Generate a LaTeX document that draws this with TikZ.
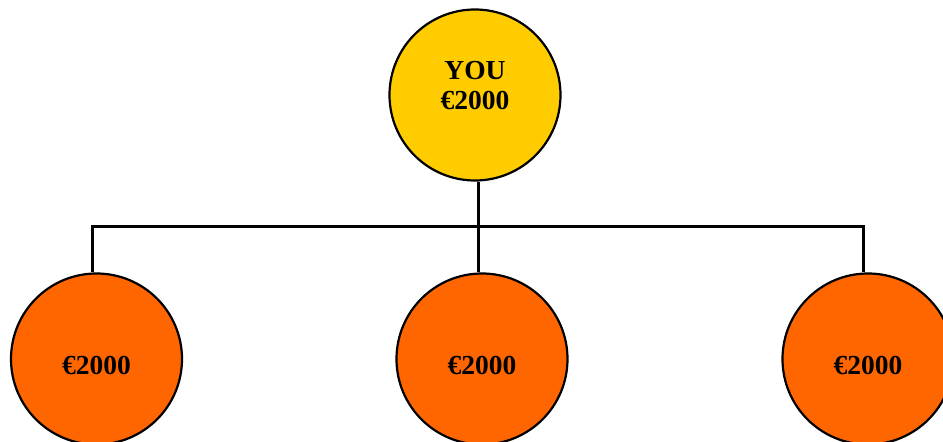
\documentclass[tikz,border=0pt]{standalone}
\usepackage{fontspec}
\setmainfont{Liberation Serif}
\definecolor{topyellow}{HTML}{FFCC00}
\definecolor{childorange}{HTML}{FF6600}
\begin{document}
\begin{tikzpicture}[x=1pt,y=1pt,
  circ/.style={circle,draw=black,line width=2.2pt,minimum size=171pt,inner sep=0pt},
  lbl/.style={font=\fontsize{27.5}{30}\selectfont\bfseries,align=center,inner sep=0pt},
  conn/.style={line width=3pt}]
\useasboundingbox (0,0) rectangle (943,442);
\clip (0,0) rectangle (943,442);
\node[circ,fill=topyellow] (top) at (475,347) {};
\node[circ,fill=childorange] (c1) at (96.5,83) {};
\node[circ,fill=childorange] (c2) at (482,83) {};
\node[circ,fill=childorange] (c3) at (868,83) {};
\node[lbl] (toptext) at ([yshift=9]top) {YOU\\€2000};
\node[lbl] (t1) at ([yshift=-6]c1) {€2000};
\node[lbl] (t2) at ([yshift=-6]c2) {€2000};
\node[lbl] (t3) at ([yshift=-6]c3) {€2000};
\coordinate (bus) at (478,215);
\draw[conn] ([xshift=3]top.south) -- (bus);
\draw[conn] ([xshift=-4.5]c1.north) |- (bus);
\draw[conn] ([xshift=-4]c2.north) -- (bus);
\draw[conn] ([xshift=-5]c3.north) |- (bus);
\end{tikzpicture}
\end{document}
